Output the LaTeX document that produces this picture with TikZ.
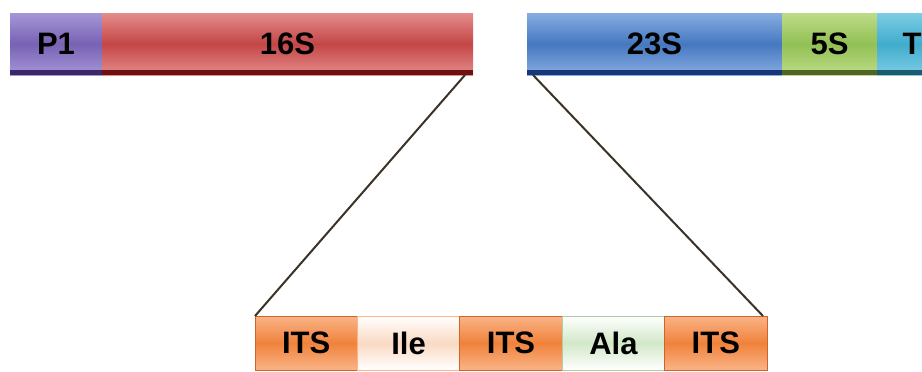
\documentclass[tikz,border=0pt]{standalone}
\usepackage{fontspec}
\setmainfont{Liberation Sans}
\usepackage{tikz}
\usetikzlibrary{positioning}
\definecolor{pone}{RGB}{120,98,180}
\definecolor{ponelt}{RGB}{165,150,215}
\definecolor{ponedk}{RGB}{60,40,105}
\definecolor{rsixteen}{RGB}{196,70,70}
\definecolor{rsixteenlt}{RGB}{228,140,140}
\definecolor{rsixteendk}{RGB}{110,15,20}
\definecolor{rtwenty}{RGB}{70,120,192}
\definecolor{rtwentylt}{RGB}{135,172,225}
\definecolor{rtwentydk}{RGB}{25,55,120}
\definecolor{rfive}{RGB}{145,192,85}
\definecolor{rfivelt}{RGB}{190,220,135}
\definecolor{rfivedk}{RGB}{80,100,40}
\definecolor{term}{RGB}{65,172,205}
\definecolor{termlt}{RGB}{125,205,228}
\definecolor{termdk}{RGB}{30,90,110}
\definecolor{its}{RGB}{240,130,60}
\definecolor{itslt}{RGB}{250,180,135}
\definecolor{itsdk}{RGB}{205,100,40}
\definecolor{iletint}{RGB}{250,218,195}
\definecolor{alatint}{RGB}{210,232,200}
\definecolor{alaedge}{RGB}{175,205,160}
\definecolor{linkcol}{RGB}{60,50,40}
\tikzset{
    operon/.style args={#1/#2/#3}{
        rectangle, inner sep=0pt, outer sep=0pt,
        minimum height=62, text depth=0pt,
        top color=#2, bottom color=#2, middle color=#1,
        path picture={\fill[#3] (path picture bounding box.south west) rectangle ([yshift=5pt]path picture bounding box.south east);},
        font=\bfseries\fontsize{31}{34}\selectfont
    },
    spacer/.style args={#1/#2/#3}{
        rectangle, inner sep=0pt, outer sep=0pt,
        minimum width=102.4, minimum height=54,
        top color=#2, bottom color=#2, middle color=#1,
        draw=#3, line width=0.8,
        font=\bfseries\fontsize{31}{34}\selectfont
    },
    link/.style={draw=linkcol, line width=2}
}

\begin{document}
\begin{tikzpicture}[x=1pt,y=1pt,yscale=-1,xscale=1]
		\useasboundingbox (0,0) rectangle (922,372);
		
		% Operon bar
		\node [operon=pone/ponelt/ponedk, minimum width=92, anchor=north west] (p1) at (10,13) {P1};
		\node [operon=rsixteen/rsixteenlt/rsixteendk, minimum width=371, right=0pt of p1] (s16) {16S};
		\node [operon=rtwenty/rtwentylt/rtwentydk, minimum width=255, anchor=north west] (s23) at (527,13) {23S};
		\node [operon=rfive/rfivelt/rfivedk, minimum width=95, right=0pt of s23] (s5) {5S};
		\node [operon=term/termlt/termdk, minimum width=70, right=0pt of s5] (tt) {T};
		
		% Spacer region
		\node [spacer=its/itslt/itsdk, anchor=north west] (its1) at (255,316) {ITS};
		\node [spacer=iletint/white/itslt, right=0pt of its1] (ile) {Ile};
		\node [spacer=its/itslt/itsdk, right=0pt of ile] (its2) {ITS};
		\node [spacer=alatint/white/alaedge, right=0pt of its2] (ala) {Ala};
		\node [spacer=its/itslt/itsdk, right=0pt of ala] (its3) {ITS};
		
		% Zoom lines
		\draw [link] ([xshift=-8pt]s16.south east) -- (its1.north west);
		\draw [link] ([xshift=6pt]s23.south west) -- ([xshift=-4pt]its3.north east);
		
\end{tikzpicture}
\end{document}
